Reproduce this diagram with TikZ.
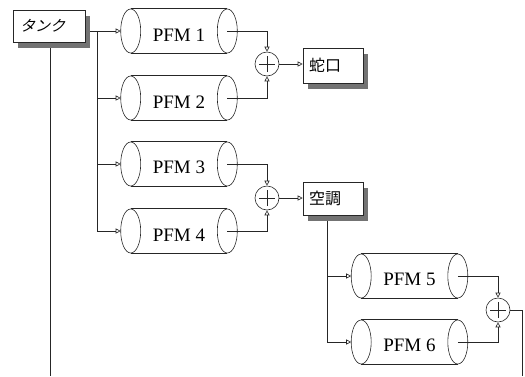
\documentclass[tikz,border=0pt]{standalone}
\usepackage{fontspec}
\setmainfont{Liberation Serif}
\newfontfamily\jp{Noto Sans CJK JP}
\newfontfamily\jpslant[FakeSlant=0.25]{Noto Sans CJK JP}
\usetikzlibrary{arrows.meta,shadows,calc}
\begin{document}
\begin{tikzpicture}[x=1pt,y=-1pt, line width=0.6pt, draw=black!85,
  arr/.style={-{Triangle[open,length=5pt,width=5pt]}},
  cylbody/.style={minimum width=96pt, minimum height=44pt, inner sep=0pt, text height=20pt, font=\fontsize{19}{20}\selectfont},
  sumnode/.style={circle, draw, minimum size=24pt, inner sep=0pt},
  boxnode/.style={draw, fill=white, align=left, inner xsep=6pt, inner ysep=0pt,
    drop shadow={shadow xshift=5pt, shadow yshift=-6pt, fill=black!55, opacity=1}},
  cylline/.style={draw=black!85}
]
\useasboundingbox (0,0) rectangle (525,376);

% boxes
\node[boxnode, text width=58pt, inner xsep=7pt, minimum height=32pt, font=\jpslant\fontsize{15}{15}\selectfont] (tank) at (49,26) {タンク};
\node[boxnode, text width=48pt, minimum height=35pt, font=\jp\fontsize{16}{16}\selectfont] (tap) at (333,65.5) {蛇口};
\node[boxnode, text width=48pt, minimum height=33pt, font=\jp\fontsize{16}{16}\selectfont] (ac) at (333,198.5) {空調};

% cylinders
\node[cylbody] (p1) at (179,31) {PFM 1};
\node[cylbody] (p2) at (179,98) {PFM 2};
\node[cylbody] (p3) at (179,164) {PFM 3};
\node[cylbody] (p4) at (179,231) {PFM 4};
\node[cylbody] (p5) at (409.5,276) {PFM 5};
\node[cylbody] (p6) at (409.5,342) {PFM 6};
\foreach \p in {p1,p2,p3,p4,p5,p6} {
  \draw[cylline] (\p.west) ellipse [x radius=10, y radius=22];
  \draw[cylline] (\p.east) ellipse [x radius=10, y radius=22];
  \draw[cylline] (\p.north west) -- (\p.north east);
  \draw[cylline] (\p.south west) -- (\p.south east);
}

% sums
\node[sumnode] (s1) at (267,64) {};
\node[sumnode] (s2) at (267,198) {};
\node[sumnode] (s3) at (498,310) {};
\foreach \s in {s1,s2,s3} {
  \draw ([xshift=-8pt]\s.center) -- ([xshift=8pt]\s.center);
  \draw ([yshift=-8pt]\s.center) -- ([yshift=8pt]\s.center);
}

% coordinates
\coordinate (bus) at (97,0);
\coordinate (bus2) at (327,0);
\coordinate (bot) at (0,376);
\coordinate (out) at (522,376);

% tank distribution
\draw[arr] ([xshift=5pt]tank.east |- p1.west) -- ([xshift=-10pt]p1.west);
\draw (bus |- p1.west) -- (bus |- p4.west);
\foreach \p in {p2,p3,p4} \draw[arr] (bus |- \p.west) -- ([xshift=-10pt]\p.west);
\draw ($(tank.south)+(1,6)$) -- ($(tank.south |- bot)+(1,0)$);

% sums 1,2
\draw[arr] (p1.east) -| (s1.north);
\draw[arr] (p2.east) -| (s1.south);
\draw[arr] (s1.east) -- (s1.east -| tap.west);
\draw[arr] (p3.east) -| (s2.north);
\draw[arr] (p4.east) -| (s2.south);
\draw[arr] (s2.east) -- (s2.east -| ac.west);

% air conditioner branch
\draw ($(bus2 |- ac.south)+(0,6)$) -- (bus2 |- p6.west);
\foreach \p in {p5,p6} \draw[arr] (bus2 |- \p.west) -- ([xshift=-10pt]\p.west);
\draw[arr] (p5.east) -| (s3.north);
\draw[arr] (p6.east) -| (s3.south);
\draw (s3.east) -| (out);
\end{tikzpicture}
\end{document}
